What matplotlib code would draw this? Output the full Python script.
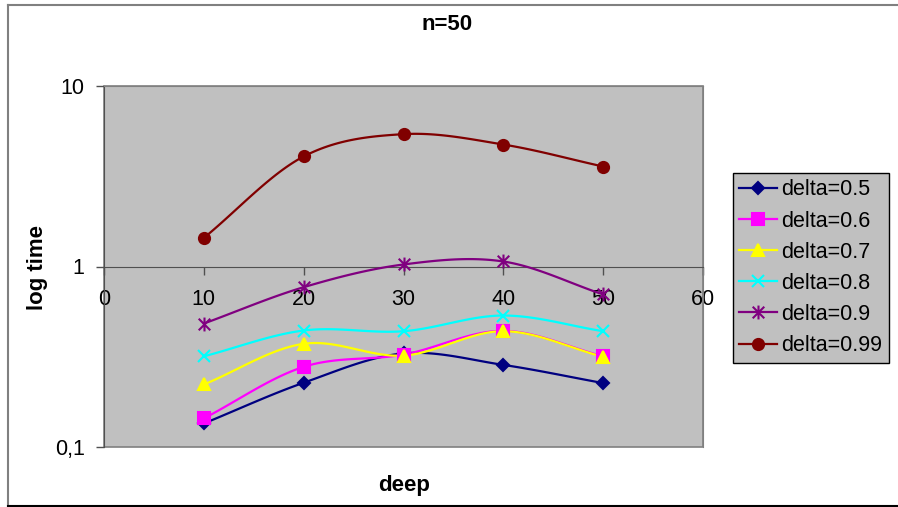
import numpy as np
import matplotlib.pyplot as plt
from matplotlib.lines import Line2D
from matplotlib.path import Path

plt.rcParams['font.family'] = ['Liberation Sans', 'DejaVu Sans']

deep = [10, 20, 30, 40, 50]
labels = ['delta=0.5', 'delta=0.6', 'delta=0.7', 'delta=0.8', 'delta=0.9', 'delta=0.99']
d05 = [0.135, 0.227, 0.33, 0.285, 0.226]
d06 = [0.144, 0.278, 0.325, 0.44, 0.318]
d07 = [0.222, 0.373, 0.321, 0.438, 0.316]
d08 = [0.318, 0.442, 0.438, 0.535, 0.438]
d09 = [0.483, 0.768, 1.026, 1.066, 0.70]
d099 = [1.44, 4.07, 5.41, 4.74, 3.58]
series = [d05, d06, d07, d08, d09, d099]

colors = ['#000080', '#FF00FF', '#FFFF00', '#00FFFF', '#800080', '#800000']

# asterisk: two diagonals plus a vertical stroke
star = Path([(-1, -1), (1, 1), (-1, 1), (1, -1), (0, -1.2), (0, 1.2)],
            [Path.MOVETO, Path.LINETO, Path.MOVETO, Path.LINETO, Path.MOVETO, Path.LINETO])
markers = ['D', 's', '^', 'x', star, 'o']
msizes = [6, 8, 8, 8, 10, 8]


def smooth(x, y, n=30):
    # Catmull-Rom curve through the points, in log space for the y axis
    x = np.asarray(x, float)
    ly = np.log10(y)
    px = np.concatenate([[2 * x[0] - x[1]], x, [2 * x[-1] - x[-2]]])
    py = np.concatenate([[2 * ly[0] - ly[1]], ly, [2 * ly[-1] - ly[-2]]])
    xs, ys = [], []
    t = np.linspace(0, 1, n)
    for i in range(1, len(px) - 2):
        for p, out in ((px, xs), (py, ys)):
            p0, p1, p2, p3 = p[i - 1], p[i], p[i + 1], p[i + 2]
            out.extend(0.5 * (2 * p1 + (-p0 + p2) * t
                              + (2 * p0 - 5 * p1 + 4 * p2 - p3) * t ** 2
                              + (-p0 + 3 * p1 - 3 * p2 + p3) * t ** 3))
    return np.array(xs), 10 ** np.array(ys)


fig = plt.figure(figsize=(8.98, 5.07), dpi=100)
ax = fig.add_axes([104 / 898, 1 - 447 / 507, 599 / 898, 361 / 507])
ax.set_facecolor('#C0C0C0')

handles = []
for vals, c, m, ms, lab in zip(series, colors, markers, msizes, labels):
    sx, sy = smooth(deep, vals)
    ax.plot(sx, sy, color=c, lw=1.6, zorder=3)
    ax.plot(deep, vals, color=c, marker=m, ms=ms, ls='none', mew=1.5, zorder=4)
    handles.append(Line2D([], [], color=c, marker=m, ms=ms, mew=1.5, lw=1.6, label=lab))

ax.set_yscale('log')
ax.set_ylim(0.1, 10)
ax.set_xlim(0, 60)
ax.set_yticks([0.1, 1, 10])
ax.set_yticklabels(['0,1', '1', '10'])
ax.yaxis.set_minor_locator(plt.NullLocator())
ax.set_xticks(range(0, 61, 10))

# x axis crosses the y axis at 1
ax.spines['bottom'].set_position(('data', 1))
for side in ['top', 'right']:
    ax.spines[side].set_color('#808080')
ax.spines['bottom'].set_color('#505050')
ax.spines['left'].set_color('#505050')
ax.add_patch(plt.Rectangle((0, 0), 1, 1, transform=ax.transAxes, fill=False,
                           edgecolor='#808080', lw=1.2, clip_on=False, zorder=0.5))
ax.tick_params(axis='both', direction='out', length=6, width=1, color='#505050',
               labelsize=15.5)
ax.tick_params(axis='x', pad=10)
ax.tick_params(axis='y', pad=8)

fig.text(37 / 898, 1 - 267 / 507, 'log time', fontsize=16, fontweight='bold',
         rotation=90, ha='center', va='center')
fig.text(404 / 898, 1 - 485 / 507, 'deep', fontsize=16, fontweight='bold',
         ha='center', va='center')
fig.text(447 / 898, 1 - 25 / 507, 'n=50', fontsize=16, fontweight='bold',
         ha='center', va='center')

leg = fig.legend(handles=handles, loc='upper left', bbox_to_anchor=(733 / 898, 1 - 173 / 507),
                 fontsize=15.5, frameon=True, fancybox=False, handlelength=1.75,
                 handletextpad=0.2, labelspacing=0.47, borderpad=0.3, borderaxespad=0)
leg.get_frame().set_facecolor('#C0C0C0')
leg.get_frame().set_edgecolor('#000000')
leg.get_frame().set_alpha(1)

# chart area border
fig.add_artist(Line2D([8 / 898, 1], [1 - 5 / 507] * 2, color='#808080', lw=1.5))
fig.add_artist(Line2D([8 / 898] * 2, [1 - 5 / 507, 1 / 507], color='#808080', lw=1.5))
fig.add_artist(Line2D([8 / 898, 1], [1 / 507] * 2, color='#000000', lw=1.5))

fig.savefig('out.png', dpi=100)
